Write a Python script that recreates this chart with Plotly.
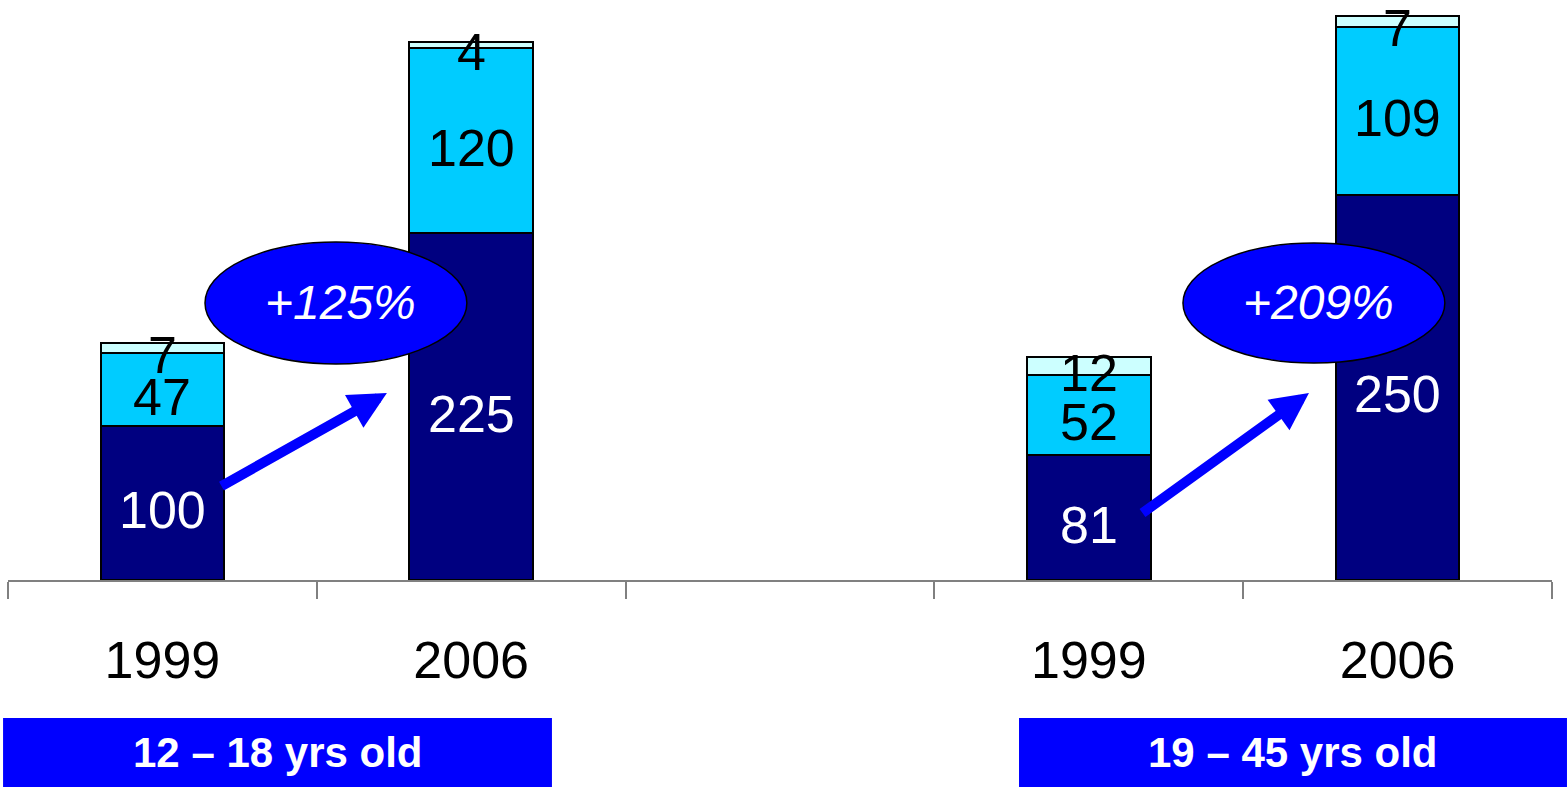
import plotly.graph_objects as go

# Category slots: two age groups with an empty slot between them
slot_ids = ["g1_1999", "g1_2006", "gap", "g2_1999", "g2_2006"]
year_labels = ["1999", "2006", "", "1999", "2006"]

# Segment values (bottom to top)
base_vals = [100, 225, None, 81, 250]
mid_vals = [47, 120, None, 52, 109]
top_vals = [7, 4, None, 12, 7]

group_names = ["12 – 18 yrs old", "19 – 45 yrs old"]
growth_labels = ["+125%", "+209%"]

NAVY = "#000080"
CYAN = "#00CCFF"
PALE = "#CCFFFF"
BLUE = "#0000FF"
FONT = "Arial, Liberation Sans, sans-serif"

fig = go.Figure()

series = [
    (base_vals, NAVY, "white"),
    (mid_vals, CYAN, "black"),
    (top_vals, PALE, "black"),
]

for vals, color, _ in series:
    fig.add_trace(go.Bar(
        x=slot_ids, y=vals, marker=dict(color=color, line=dict(color="black", width=2)),
        hoverinfo="skip", showlegend=False,
    ))

# Segment labels centred on each segment
cum = [0 if v is not None else None for v in base_vals]
for vals, _, txtcolor in series:
    for i, v in enumerate(vals):
        if v is None:
            continue
        fig.add_annotation(
            x=slot_ids[i], y=cum[i] + v / 2, xref="x", yref="y", text=str(v),
            showarrow=False, xanchor="center", yanchor="middle", yshift=-7,
            font=dict(family=FONT, size=52, color=txtcolor),
        )
        cum[i] += v

# Growth ellipses
ellipses = [(0.138, 0.986, 140.2, 219.3), (3.305, 4.153, 140.8, 218.7)]
for (x0, x1, y0, y1), lab, tx in zip(ellipses, growth_labels, [0.578, 3.745]):
    fig.add_shape(type="circle", xref="x", yref="y", x0=x0, x1=x1, y0=y0, y1=y1,
                  fillcolor=BLUE, line=dict(color="black", width=1.5), layer="above")
    fig.add_annotation(x=tx, y=179.8, xref="x", yref="y", text=f"<i>{lab}</i>",
                       showarrow=False, font=dict(family=FONT, size=48, color="white"))

# Growth arrows
arrows = [((0.1865, 60.35), (0.727, 121.35)), ((3.169, 42.8), (3.713, 121.35))]
for (tx0, ty0), (hx, hy) in arrows:
    fig.add_annotation(x=hx, y=hy, ax=tx0, ay=ty0, xref="x", yref="y", axref="x", ayref="y",
                       text="", showarrow=True, arrowhead=2, arrowsize=0.75, arrowwidth=10,
                       arrowcolor=BLUE, standoff=0, startstandoff=0)

# Group banners below the axis
banners = [(-0.0032, 0.3523), (0.6548, 1.0097)]
for (bx0, bx1), name in zip(banners, group_names):
    fig.add_shape(type="rect", xref="paper", yref="paper", x0=bx0, x1=bx1,
                  y0=-0.357, y1=-0.2379, fillcolor=BLUE, line=dict(width=0))
    fig.add_annotation(xref="paper", yref="paper", x=(bx0 + bx1) / 2, y=-0.297,
                       xanchor="center", yanchor="middle",
                       text=f"<b>{name}</b>", showarrow=False,
                       font=dict(family=FONT, size=42, color="white"))

fig.update_layout(
    width=1567, height=787,
    margin=dict(l=8, r=15, t=0, b=207),
    paper_bgcolor="white", plot_bgcolor="white",
    barmode="stack", bargap=0.6,
    showlegend=False,
    xaxis=dict(
        type="category", tickmode="array", tickvals=slot_ids, ticktext=year_labels,
        tickson="boundaries", ticks="outside", ticklen=17, tickwidth=1.5, tickcolor="#808080",
        showline=True, linecolor="#808080", linewidth=1.5, showgrid=False,
        tickfont=dict(family=FONT, size=52, color="black"), ticklabelstandoff=34,
        range=[-0.5, 4.5], fixedrange=True,
    ),
    yaxis=dict(range=[0, 376.4], visible=False, showgrid=False, zeroline=False, fixedrange=True),
)

fig.write_html("out.html")
